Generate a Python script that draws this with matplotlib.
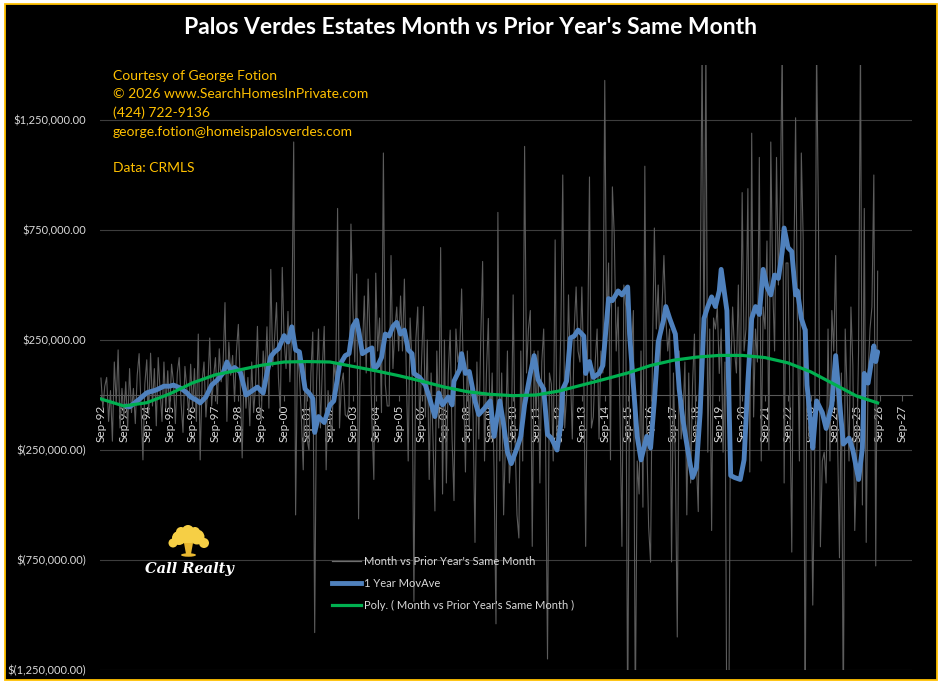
import numpy as np
import matplotlib
matplotlib.use("Agg")
from matplotlib import pyplot as plt
from matplotlib.lines import Line2D
from matplotlib.patches import Rectangle, Circle, Polygon, Ellipse
from matplotlib.ticker import FuncFormatter

plt.rcParams['font.family'] = ['Lato', 'DejaVu Sans']

# monthly change vs prior year's same month, thousands of $, first point = Sep-92
grey_k = [
    77, -60, 40, 80, -120, 20, -210, 150, -40, 205, -150, 30,
    -100, 60, -150, 120, -80, 30, -130, 90, 188, -60, -295, 50,
    160, -90, 190, -50, 120, -140, 170, 20, -120, 150, -60, 110,
    -80, 140, 60, -130, 100, 170, -40, -170, 130, 30, -90, 140,
    -60, 120, -120, 277, -295, 60, 150, -100, 40, 259, -50, 80,
    170, -40, 210, 60, 140, 420, -120, 240, 90, 180, -30, 200,
    321, 50, -286, 120, -60, 80, -140, 150, -80, 40, 312, -40,
    -116, 200, 90, 310, -60, 571, 130, 260, 420, 80, -80, 580,
    250, 120, 380, 60, 300, 1150, -545, 200, 90, -100, -340, 150,
    -200, -250, 100, 286, -1080, 60, 300, -150, 120, 312, -340, 20,
    -100, -200, 150, 60, 848, -150, 50, 100, -90, -100, -50, 777,
    400, 150, 550, -563, 300, 200, 450, 100, 527, 250, -120, -384,
    554, 200, 350, -80, 1100, 50, -50, -50, 634, 120, 300, 400,
    200, 450, 200, 527, 100, -300, 350, 150, -938, 250, 400, -150,
    150, 402, -100, 250, -384, 100, -200, -527, 200, -150, 670, -450,
    250, -400, 100, 295, -200, -480, 300, 150, 200, 482, 50, -350,
    200, -150, 100, -100, -670, 150, -200, 250, 607, -300, 100, 348,
    -200, 100, -350, -1040, 830, -300, 100, -545, -200, 200, -400, -250,
    455, -200, -545, -650, 200, -300, 1130, 100, 300, 384, -688, 200,
    -100, 200, -400, 150, 300, -200, -1200, 100, 50, -300, 705, -250,
    -100, 300, 1000, -150, 0, 455, 100, -200, 300, 491, 200, 150,
    491, 100, -688, 200, 991, -150, -100, 150, 300, -200, 200, 100,
    1430, 300, 600, -295, 946, 723, 200, 400, -100, -688, 500, 400,
    -1500, 100, 200, 384, -1450, -300, -450, 200, -510, 1040, -200, -600,
    -760, 200, 759, 300, 500, 150, 400, 634, 350, 200, 300, -759,
    100, -300, -1100, 200, -200, -100, 150, -545, 100, -400, 50, 277,
    -300, -530, 400, 1600, 200, 1600, -260, 300, -616, 350, 300, 400,
    98, 300, -260, 150, -1600, -1500, 98, 400, 200, 100, 500, -100,
    920, 200, 300, 938, -350, 1190, -100, 300, 150, 1080, -300, 400,
    300, 700, -250, 1150, 500, 200, 1080, 500, 900, 1600, -400, 600,
    600, -20, -714, 500, 1260, 300, -300, 1100, 700, -1500, 300, -200,
    -200, -955, -300, 1600, 777, -690, -300, -260, -400, 300, -300, 384,
    200, 634, -200, -740, 100, -1500, 300, 9, -300, 400, 134, -616,
    -300, 200, 1600, -500, 848, -670, 100, 300, 400, 1000, -777, 563,
]

# 1 year moving average (month index, thousands)
blue_month = [13, 15, 20, 24, 29, 33, 36, 38, 42, 45, 47, 50, 52, 55, 58, 61, 64, 66, 68, 70,
              73, 76, 79, 82, 85, 87, 89, 91, 93, 96, 98, 100, 102, 104, 107, 109, 111, 112, 114, 117,
              120, 122, 125, 128, 130, 132, 134, 136, 137, 140, 142, 143, 145, 147, 149, 151, 153, 155, 157, 159,
              161, 163, 164, 167, 170, 172, 175, 177, 179, 182, 184, 185, 188, 189, 191, 193, 196, 198, 201, 204,
              206, 209, 211, 213, 215, 218, 220, 222, 225, 227, 229, 232, 234, 236, 239, 241, 242, 244, 246, 248,
              250, 253, 254, 256, 258, 261, 263, 266, 268, 271, 273, 276, 277, 279, 281, 283, 286, 288, 290, 292,
              295, 296, 298, 301, 303, 305, 308, 310, 312, 314, 316, 318, 320, 322, 324, 325, 328, 330, 332, 335,
              337, 339, 341, 343, 345, 347, 349, 351, 353, 355, 357, 358, 360, 362, 364, 365, 367, 369, 370, 372,
              373, 375, 378, 380, 383, 385, 387, 389, 392, 394, 397, 399, 400, 402, 405, 406, 407]
blue_k = [-50, -54, -20, 10, 23, 40, 40, 45, 30, 10, -9, -23, -36, -9, 45, 68, 100, 150, 110, 125,
          105, 0, 18, 36, 9, 100, 175, 196, 210, 270, 241, 310, 205, 196, 27, 9, -15, -170, -98, -125,
          -45, -27, 134, 179, 188, 312, 340, 241, 188, 205, 214, 116, 134, 170, 277, 268, 312, 330, 277, 295,
          205, 188, 98, 80, 45, -9, -98, 9, -45, -9, -45, 63, 116, 188, 98, 107, -27, -89, -60, -27,
          -188, -27, -134, -259, -312, -241, -188, -45, 98, 179, 71, 27, -179, -196, -250, -134, 27, 63, 259, 268,
          295, 268, 98, 152, 80, 98, 134, 438, 429, 473, 455, 491, 277, 45, -188, -295, -188, -241, -27, 241,
          348, 402, 348, 277, 27, -116, -277, -375, -330, -80, 348, 402, 446, 402, 473, 571, 384, -366, -375, -384,
          -295, 63, 348, 402, 366, 571, 491, 455, 545, 530, 652, 759, 670, 652, 455, 473, 348, 295, 45, -134,
          -241, -27, -80, -152, -45, 179, -27, -223, -196, -250, -384, -241, 98, 54, 223, 152, 196]

# polynomial trend
green_month = [0, 12, 24, 36, 48, 60, 72, 84, 96, 108, 120, 132, 144, 156, 168, 180, 192, 204,
               216, 228, 240, 252, 264, 276, 288, 300, 312, 324, 336, 348, 360, 372, 384, 396, 407]
green_k = [-18, -50, -35, 5, 55, 92, 113, 135, 150, 152, 150, 130, 110, 88, 63, 36, 15, 3,
           -3, 0, 18, 45, 72, 100, 134, 158, 172, 180, 180, 170, 146, 105, 50, -5, -36]

tick_years = list(range(1992, 2028))
tick_labels = ["Sep-%02d" % (y % 100) for y in tick_years]
y_ticks = [-1250000, -750000, -250000, 250000, 750000, 1250000]

notes = ["Courtesy of George Fotion", "\u00a9 2026 www.SearchHomesInPrivate.com",
         "(424) 722-9136", "george.fotion@homeispalosverdes.com", "", "Data: CRMLS"]

W, H = 943, 682
fig = plt.figure(figsize=(W / 100, H / 100), dpi=100, facecolor='white')
fig.patches.append(Rectangle((5 / W, 2 / H), 932 / W, 676 / H, transform=fig.transFigure,
                             facecolor='black', edgecolor='#ffc000', lw=1.3, zorder=-5))

ax = fig.add_axes([100 / W, 1 - 670 / H, 812 / W, 605 / H])
ax.set_facecolor('black')
for s in ['top', 'right', 'left']:
    ax.spines[s].set_visible(False)
ax.spines['bottom'].set_position(('data', 0))
ax.spines['bottom'].set_color('#595959')

months = np.arange(len(grey_k))
ax.plot(months, np.array(grey_k) * 1000, color='#5c5c5c', lw=0.8, zorder=2)
ax.plot(blue_month, np.array(blue_k) * 1000, color='#4f81bd', lw=3.5, zorder=3,
        solid_joinstyle='round', solid_capstyle='round')
ax.plot(green_month, np.array(green_k) * 1000, color='#00b050', lw=2.3, zorder=4)

ax.set_ylim(-1250000, 1500000)
ax.set_xlim(-0.5, 425)
ax.set_yticks(y_ticks)


def money(v, pos):
    if v < 0:
        return "$(%s)" % format(-v, ',.2f')
    return "$%s" % format(v, ',.2f')


ax.yaxis.set_major_formatter(FuncFormatter(money))
ax.grid(axis='y', color='#3d3d3d', lw=0.8)
ax.set_axisbelow(True)

ax.set_xticks([12 * i for i in range(len(tick_labels))])
ax.set_xticklabels(tick_labels, rotation=90, fontsize=8.5)
ax.tick_params(axis='x', colors='#595959', length=4, width=0.8, pad=3, labelcolor='#d9d9d9')
ax.tick_params(axis='y', length=0, labelsize=8, labelcolor='#d9d9d9', pad=10)

fig.text(470 / W, 1 - 28 / H, "Palos Verdes Estates Month vs Prior Year's Same Month",
         color='white', fontsize=16.5, fontweight='bold', ha='center', va='center')

for i, line in enumerate(notes):
    fig.text(113 / W, 1 - (76 + i * 18.5) / H, line, color='#ffc000', fontsize=10,
             ha='left', va='center')

handles = [Line2D([], [], color='#6f6f6f', lw=0.9),
           Line2D([], [], color='#4f81bd', lw=3.5),
           Line2D([], [], color='#00b050', lw=2.3)]
labels = ["Month vs Prior Year's Same Month", "1 Year MovAve",
          "Poly. ( Month vs Prior Year's Same Month )"]
fig.legend(handles, labels, loc='upper left', bbox_to_anchor=(322 / W, 1 - 546 / H),
           frameon=False, fontsize=8, labelcolor='#d9d9d9', handlelength=2.6,
           handletextpad=0.3, labelspacing=1.0)

# Call Realty logo
lg = fig.add_axes([150 / W, 1 - 582 / H, 80 / W, 57 / H])
lg.set_xlim(0, 80)
lg.set_ylim(57, 0)
lg.axis('off')
gold = '#f6cf45'
for cx, cy, r in [(38, 11, 8), (29, 13, 7), (47, 12, 7.5), (23, 18, 4.5), (54, 18, 5),
                  (38, 6, 6), (31, 7, 5), (45, 7, 5)]:
    lg.add_patch(Circle((cx, cy), r, color=gold, lw=0))
lg.add_patch(Polygon([(34, 18), (43, 18), (41, 29), (36, 29)], color='#e9b830', lw=0))
lg.add_patch(Ellipse((38.5, 30), 15, 3.5, color='#e9b830', lw=0))
lg.text(39, 44, "Call Realty", color='white', fontsize=10.5, fontstyle='italic', fontweight='bold',
        family='DejaVu Serif', ha='center', va='center')

fig.savefig('out.png', dpi=100, facecolor='white')
